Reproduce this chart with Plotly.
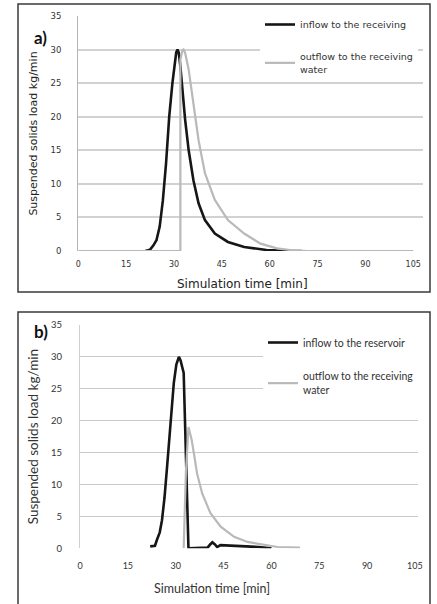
import plotly.graph_objects as go

# ---------------- data ----------------
# panel a
a_in_t = [21, 22.5, 23.5, 24.5, 25.5, 26.5, 27.5, 28.5, 29.5, 30.2, 30.7, 31.1, 31.5, 32, 32.6, 33.5, 34.6, 36.1, 37.7, 39.7, 42.8, 46.9, 52, 59, 65, 70]
a_in_v = [0, 0.2, 0.8, 1.6, 3.6, 7.5, 13, 20, 25, 28.3, 29.6, 30, 29.5, 27.5, 24, 19.5, 15, 10.5, 7.1, 4.6, 2.6, 1.35, 0.6, 0.15, 0.03, 0]
a_out_t = [0, 32, 32, 32.6, 33, 33.5, 34.6, 36.1, 37.7, 39.7, 42.8, 46.9, 52, 57.1, 62.3, 67, 72, 105]
a_out_v = [0, 0, 28.5, 29.8, 30, 29.5, 27, 21.5, 16.5, 11.6, 7.6, 4.6, 2.6, 1.1, 0.4, 0.1, 0, 0]

# panel b
b_in_t = [22, 23.5, 24.1, 25, 25.7, 26.5, 27.3, 28.3, 29.4, 30.2, 30.7, 31, 31.5, 32, 32.5, 34, 40, 40.8, 41.5, 42.3, 43, 44, 48, 52, 56, 60]
b_in_v = [0.3, 0.4, 1.3, 2.5, 4.4, 8, 12.8, 19.6, 25.9, 28.8, 29.7, 30, 29.5, 28.5, 27.5, 0, 0.1, 0.6, 0.95, 0.6, 0.2, 0.5, 0.35, 0.3, 0.2, 0]
b_out_t = [32.5, 33.2, 34, 35, 35.7, 36.7, 38.3, 40.9, 44.1, 48.3, 52.5, 57.7, 62, 69]
b_out_v = [0, 12, 19, 17, 14.9, 11.7, 8.6, 5.5, 3.4, 1.8, 1.0, 0.5, 0.2, 0.1]

x_ticks = [0, 15, 30, 45, 60, 75, 90, 105]
y_ticks = [0, 5, 10, 15, 20, 25, 30, 35]

names_a = ["inflow to the receiving", "outflow to the receiving<br>water"]
names_b = ["inflow to the reservoir", "outflow to the receiving<br>water"]
x_title = "Simulation time [min]"
y_title = "Suspended solids load kg/min"

W, H = 437, 604
BLACK = "#161616"
GRAY = "#b9b9b9"
FA = "DejaVu Sans"
FB = "Lato"

fig = go.Figure()
fig.add_trace(go.Scatter(x=a_in_t, y=a_in_v, mode="lines", name=names_a[0],
                         line=dict(color=BLACK, width=2.6), xaxis="x", yaxis="y",
                         legend="legend", legendgroup="a1"))
fig.add_trace(go.Scatter(x=a_out_t, y=a_out_v, mode="lines", name=names_a[1],
                         line=dict(color=GRAY, width=2.2), xaxis="x", yaxis="y",
                         legend="legend", legendgroup="a2"))
fig.add_trace(go.Scatter(x=b_in_t, y=b_in_v, mode="lines", name=names_b[0],
                         line=dict(color=BLACK, width=2.6), xaxis="x2", yaxis="y2",
                         legend="legend2", legendgroup="b1"))
fig.add_trace(go.Scatter(x=b_out_t, y=b_out_v, mode="lines", name=names_b[1],
                         line=dict(color=GRAY, width=2.2), xaxis="x2", yaxis="y2",
                         legend="legend2", legendgroup="b2"))


def px_x(p):
    return p / W


def px_y(p):
    return (H - p) / H


# panel a plot area: x 0 at 78.3, 105 at 413.3 (3.19 px/min), gridlines to ~423; y 0 at 251, 35 at 16
ax_a = dict(domain=[px_x(78.3), px_x(78.3 + 108 * 3.19)], range=[0, 108], tickvals=x_ticks,
            showgrid=False, zeroline=False, showline=False, ticks="",
            ticklabelstandoff=7, tickfont=dict(family=FA, size=8, color="#333"),
            fixedrange=True, automargin=False)
ay_a = dict(domain=[px_y(251), px_y(16)], range=[0, 35], tickvals=y_ticks,
            showgrid=True, gridcolor="#d2d2d2", gridwidth=1.6, zeroline=False,
            showline=True, linecolor="#b5b5b5", linewidth=1.4, ticks="",
            ticklabelstandoff=14, tickfont=dict(family=FA, size=8.5, color="#333"),
            title=dict(text=y_title, font=dict(family=FA, size=11, color="#222"), standoff=10),
            fixedrange=True, automargin=False)

# panel b plot area: x 0 at 80, 105 at 415, gridlines to ~418; y 0 at 548.3, 35 at 325
ax_b = dict(domain=[px_x(80), px_x(80 + 106 * 3.19)], range=[0, 106], tickvals=x_ticks,
            showgrid=False, zeroline=False, showline=False, ticks="", anchor="y2",
            ticklabelstandoff=11, tickfont=dict(family=FB, size=9, color="#333"),
            fixedrange=True, automargin=False)
ay_b = dict(domain=[px_y(548.3), px_y(325)], range=[0, 35], tickvals=y_ticks, anchor="x2",
            showgrid=True, gridcolor="#c9c9c9", gridwidth=1, zeroline=False,
            showline=True, linecolor="#d0d0d0", linewidth=1, ticks="",
            ticklabelstandoff=15, tickfont=dict(family=FB, size=9.5, color="#333"),
            title=dict(text=y_title, font=dict(family=FB, size=13.5, color="#333"), standoff=9),
            fixedrange=True, automargin=False)

fig.update_layout(
    width=W, height=H,
    margin=dict(l=0, r=0, t=0, b=0),
    paper_bgcolor="white", plot_bgcolor="white",
    xaxis=ax_a, yaxis=ay_a, xaxis2=ax_b, yaxis2=ay_b,
    legend=dict(x=px_x(260), y=px_y(10), xanchor="left", yanchor="top",
                bgcolor="white", borderwidth=0, tracegroupgap=15,
                font=dict(family=FA, size=9.5, color="#333"), valign="middle"),
    legend2=dict(x=px_x(263), y=px_y(328), xanchor="left", yanchor="top",
                 bgcolor="white", borderwidth=0, tracegroupgap=16,
                 font=dict(family=FB, size=10.5, color="#333"), valign="middle"),
    showlegend=True,
)

# x-axis titles (placed as in the reference, slightly left of centre)
fig.add_annotation(text=x_title, xref="paper", yref="paper", x=px_x(242), y=px_y(284),
                   showarrow=False, font=dict(family=FA, size=12, color="#222"))
fig.add_annotation(text=x_title, xref="paper", yref="paper", x=px_x(212), y=px_y(588),
                   yanchor="middle", showarrow=False, font=dict(family=FB, size=12.5, color="#333"))

# panel frames
fig.add_shape(type="rect", xref="paper", yref="paper",
              x0=px_x(18), x1=px_x(430), y0=px_y(292), y1=px_y(4),
              line=dict(color="#3a3a3a", width=1.5), fillcolor="rgba(0,0,0,0)", layer="above")
fig.add_shape(type="rect", xref="paper", yref="paper",
              x0=px_x(18), x1=px_x(430), y0=px_y(615), y1=px_y(312),
              line=dict(color="#3a3a3a", width=1.5), fillcolor="rgba(0,0,0,0)", layer="above")

# panel letters
fig.add_annotation(text="<b>a)</b>", xref="paper", yref="paper", x=px_x(32), y=px_y(25),
                   showarrow=False, font=dict(family="Lato", size=17, color="#111"))
fig.add_annotation(text="<b>b)</b>", xref="paper", yref="paper", x=px_x(32), y=px_y(332),
                   showarrow=False, font=dict(family="Lato", size=17, color="#111"))

fig.write_html("out.html", config={"displayModeBar": False},
               post_script="document.body.style.margin='0';")
